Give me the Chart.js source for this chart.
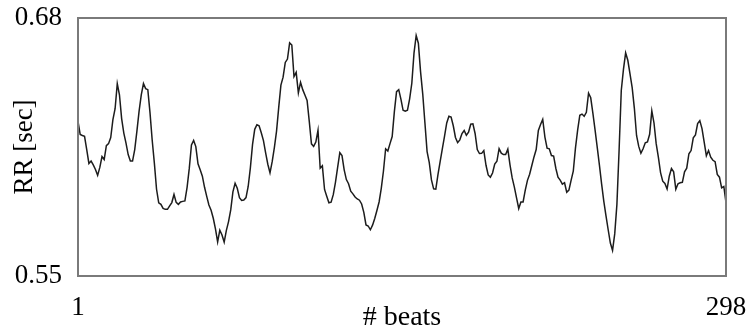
<!DOCTYPE html>
<html>
<head>
<meta charset="utf-8">
<script src="https://cdn.jsdelivr.net/npm/chart.js@4/dist/chart.umd.min.js"></script>
<style>
html,body{margin:0;padding:0;background:#fff;}
#wrap{width:747px;height:329px;position:relative;}
</style>
</head>
<body>
<div id="wrap"><canvas id="c" width="747" height="329"></canvas></div>
<script>
// RR interval per beat (seconds)
const rr = [
0.6279,0.6213,0.6208,0.6204,0.6137,0.6067,0.6079,0.6060,0.6037,0.6007,
0.6047,0.6102,0.6087,0.6157,0.6167,0.6198,0.6288,0.6343,0.6469,0.6413,
0.6293,0.6220,0.6170,0.6112,0.6079,0.6079,0.6137,0.6230,0.6331,0.6413,
0.6470,0.6444,0.6439,0.6323,0.6185,0.6069,0.5937,0.5869,0.5861,0.5841,
0.5836,0.5836,0.5853,0.5870,0.5911,0.5871,0.5861,0.5873,0.5876,0.5878,
0.5947,0.6042,0.6160,0.6183,0.6152,0.6065,0.6035,0.6003,0.5947,0.5901,
0.5858,0.5831,0.5791,0.5737,0.5672,0.5731,0.5707,0.5671,0.5730,0.5774,
0.5833,0.5924,0.5967,0.5942,0.5895,0.5881,0.5883,0.5895,0.5951,0.6045,
0.6163,0.6239,0.6262,0.6257,0.6222,0.6182,0.6120,0.6063,0.6020,0.6076,
0.6147,0.6230,0.6350,0.6462,0.6502,0.6576,0.6593,0.6675,0.6664,0.6505,
0.6526,0.6423,0.6476,0.6439,0.6412,0.6385,0.6279,0.6166,0.6153,0.6175,
0.6234,0.6043,0.6055,0.5936,0.5902,0.5869,0.5872,0.5910,0.5972,0.6047,
0.6122,0.6107,0.6035,0.5986,0.5965,0.5927,0.5914,0.5898,0.5888,0.5882,
0.5863,0.5821,0.5757,0.5752,0.5733,0.5756,0.5790,0.5830,0.5873,0.5942,
0.6029,0.6141,0.6130,0.6167,0.6203,0.6328,0.6429,0.6439,0.6391,0.6335,
0.6330,0.6335,0.6393,0.6471,0.6623,0.6712,0.6673,0.6530,0.6418,0.6272,
0.6127,0.6071,0.5984,0.5939,0.5938,0.6012,0.6077,0.6142,0.6205,0.6271,
0.6305,0.6301,0.6257,0.6198,0.6172,0.6186,0.6218,0.6233,0.6209,0.6225,
0.6265,0.6267,0.6218,0.6137,0.6117,0.6118,0.6132,0.6058,0.6009,0.5998,
0.6019,0.6064,0.6078,0.6142,0.6119,0.6112,0.6112,0.6139,0.6060,0.5994,
0.5948,0.5894,0.5840,0.5873,0.5873,0.5933,0.5982,0.6013,0.6057,0.6100,
0.6137,0.6233,0.6263,0.6289,0.6200,0.6144,0.6141,0.6107,0.6104,0.6043,
0.5998,0.5983,0.5963,0.5970,0.5922,0.5933,0.5982,0.6028,0.6144,0.6235,
0.6310,0.6316,0.6305,0.6325,0.6421,0.6398,0.6319,0.6235,0.6147,0.6057,
0.5963,0.5876,0.5803,0.5733,0.5666,0.5629,0.5712,0.5861,0.6134,0.6435,
0.6541,0.6624,0.6587,0.6518,0.6449,0.6345,0.6208,0.6153,0.6119,0.6141,
0.6171,0.6175,0.6214,0.6332,0.6271,0.6167,0.6099,0.6021,0.5978,0.5966,
0.5938,0.6003,0.6042,0.6025,0.5937,0.5965,0.5970,0.5972,0.6025,0.6043,
0.6116,0.6132,0.6196,0.6211,0.6268,0.6283,0.6243,0.6174,0.6106,0.6132,
0.6099,0.6083,0.6076,0.6012,0.5998,0.5944,0.5951,0.5870
];
const beats = rr.map((_, i) => i + 1);
const xTicks = [1, 298];
const yTicks = [0.55, 0.68];
const xTitle = '# beats';
const yTitle = 'RR [sec]';

const FONT = 'Liberation Serif, Times New Roman, serif';

const framePlugin = {
  id: 'frame',
  afterDatasetsDraw(chart) {
    const a = chart.chartArea, ctx = chart.ctx;
    ctx.save();
    ctx.strokeStyle = '#7a7a7a';
    ctx.lineWidth = 2;
    ctx.strokeRect(a.left, a.top, a.right - a.left, a.bottom - a.top);
    ctx.restore();
  }
};

new Chart(document.getElementById('c'), {
  type: 'line',
  data: {
    datasets: [{
      data: rr.map((v, i) => ({x: beats[i], y: v})),
      borderColor: '#1c1c1c',
      borderWidth: 1.5,
      pointRadius: 0,
      tension: 0,
      fill: false
    }]
  },
  options: {
    responsive: false,
    animation: false,
    devicePixelRatio: 1,
    layout: {padding: {top: 18, right: 21, bottom: 0, left: 0}},
    plugins: {legend: {display: false}, tooltip: {enabled: false}},
    scales: {
      x: {
        type: 'linear',
        min: 1, max: 298,
        grid: {display: false, drawTicks: false},
        border: {display: false},
        afterBuildTicks: s => { s.ticks = xTicks.map(v => ({value: v})); },
        afterFit: s => { s.height = 53; s.paddingLeft = 0; s.paddingRight = 0; },
        ticks: {
          padding: 16,
          maxRotation: 0,
          autoSkip: false,
          color: '#000',
          font: {family: FONT, size: 27},
          callback: v => String(v)
        },
        title: {
          display: true, text: xTitle, color: '#000',
          font: {family: FONT, size: 28},
          padding: {top: 0, bottom: -5}
        }
      },
      y: {
        type: 'linear',
        min: 0.55, max: 0.68,
        grid: {display: false, drawTicks: false},
        border: {display: false},
        afterBuildTicks: s => { s.ticks = yTicks.map(v => ({value: v})); },
        afterFit: s => { s.width = 78; s.paddingTop = 0; s.paddingBottom = 0; },
        ticks: {
          padding: 16,
          color: '#000',
          font: {family: FONT, size: 27},
          callback: v => Number(v).toFixed(2)
        },
        title: {
          display: true, text: yTitle, color: '#000',
          font: {family: FONT, size: 27},
          padding: {top: 9, bottom: 0}
        }
      }
    }
  },
  plugins: [framePlugin]
});
</script>
</body>
</html>
